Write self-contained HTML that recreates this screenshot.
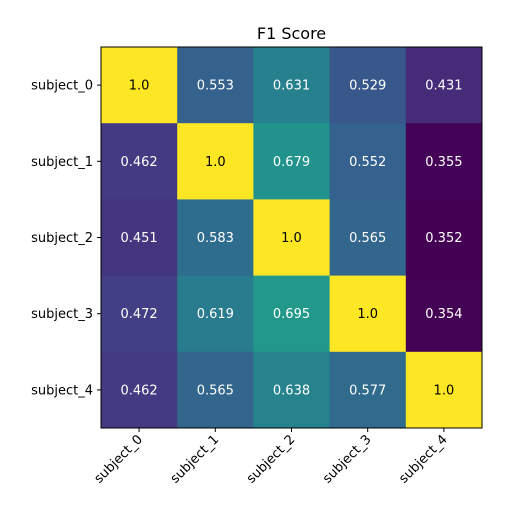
<!DOCTYPE html>
<html><head><meta charset="utf-8"><style>
body{margin:0;background:#fff;}
svg text{font-family:"DejaVu Sans","Liberation Sans",sans-serif;}
</style></head><body>
<svg id="chart" width="510" height="520">
<text x="291.5" y="39" font-size="16" text-anchor="middle">F1 Score</text>
<g id="cells"></g>
<g id="axes"></g>
</svg>
<script>
const rowLabels = ["subject_0","subject_1","subject_2","subject_3","subject_4"];
const colLabels = ["subject_0","subject_1","subject_2","subject_3","subject_4"];
const row0 = [1.0,0.553,0.631,0.529,0.431];
const row1 = [0.462,1.0,0.679,0.552,0.355];
const row2 = [0.451,0.583,1.0,0.565,0.352];
const row3 = [0.472,0.619,0.695,1.0,0.354];
const row4 = [0.462,0.565,0.638,0.577,1.0];
const values = [row0,row1,row2,row3,row4];

const L=101, T=47, W=381, H=381;
const cw=W/colLabels.length, ch=H/rowLabels.length;
const xPos=i=>L+i*cw, yPos=j=>T+j*ch;
const vir=["#440154","#482475","#414487","#355f8d","#2a788e","#21918c","#22a884","#44bf70","#7ad151","#bddf26","#fde725"];
function hex(h){return [1,3,5].map(k=>parseInt(h.substr(k,2),16));}
function cmap(t){t=Math.max(0,Math.min(1,t));const p=t*10,i=Math.min(9,Math.floor(p)),f=p-i;
 const a=hex(vir[i]),b=hex(vir[i+1]);return `rgb(${a.map((v,k)=>Math.round(v+(b[k]-v)*f)).join(',')})`;}
const flat=values.flat(), vmin=Math.min(...flat), vmax=Math.max(...flat);
const NS="http://www.w3.org/2000/svg";
const cells=document.getElementById('cells'), axes=document.getElementById('axes');
function mk(tag,attrs,parent){const e=document.createElementNS(NS,tag);for(const k in attrs)e.setAttribute(k,attrs[k]);parent.appendChild(e);return e;}
values.forEach((row,j)=>row.forEach((v,i)=>{
 const t=(v-vmin)/(vmax-vmin);
 const r=mk('rect',{x:xPos(i),y:yPos(j),width:cw+0.5,height:ch+0.5,fill:cmap(t)},cells);
 
 
 const tx=mk('text',{x:xPos(i)+cw/2,y:yPos(j)+ch/2+4.5,'font-size':13,'text-anchor':'middle',fill:t>0.7?'#000':'#fff'},cells);
 tx.textContent=(v===1?'1.0':String(v));
 
 
}));
const fr=mk('rect',{x:L,y:T,width:W,height:H,fill:'none',stroke:'#000','stroke-width':1},axes);


rowLabels.forEach((lab,j)=>{
 const y=yPos(j)+ch/2;
 mk('line',{x1:L-4,x2:L,y1:y,y2:y,stroke:'#000'},axes);
 const t=mk('text',{x:L-8,y:y+4.5,'font-size':13,'text-anchor':'end'},axes);
 t.textContent=lab;
 
 
});
colLabels.forEach((lab,i)=>{
 const x=xPos(i)+cw/2;
 mk('line',{x1:x,x2:x,y1:T+H,y2:T+H+4,stroke:'#000'},axes);
 const t=mk('text',{x:x+4,y:T+H+12,'font-size':13,'text-anchor':'end',transform:`rotate(-45 ${x+4} ${T+H+12})`},axes);
 t.textContent=lab;
 
 
});
</script>
</body></html>
